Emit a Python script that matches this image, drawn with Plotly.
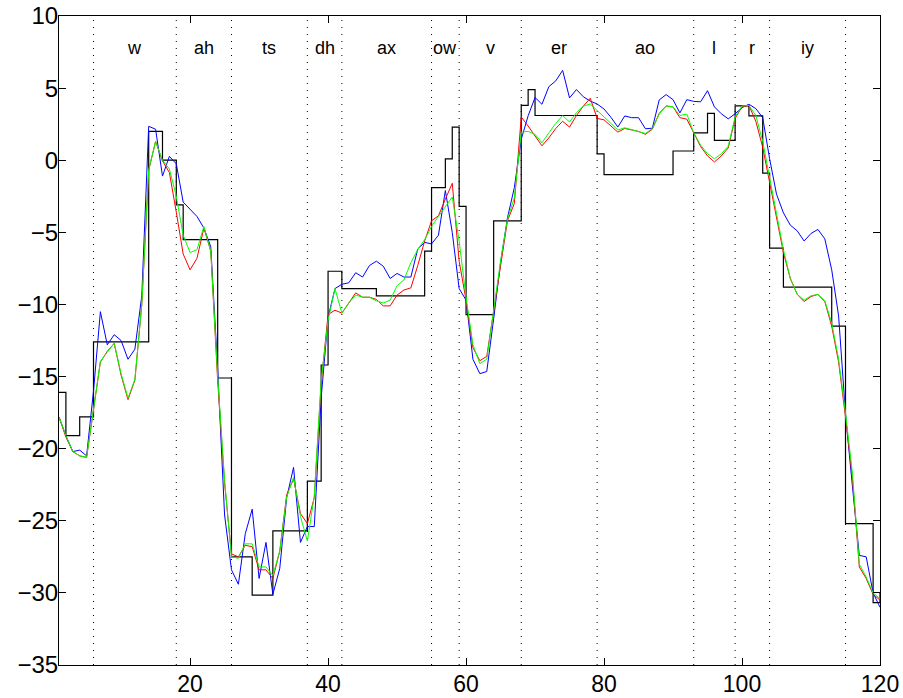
import plotly.graph_objects as go

frames = list(range(1, 121))

blue = [-17.8, -19.1, -20.2, -20.1, -20.5, -16.0, -10.5, -12.8, -12.1, -12.5,
        -13.8, -13.1, -9.4, 2.35, 2.15, -1.1, 0.27, -0.25, -2.9, -3.4,
        -3.9, -4.7, -6.0, -14.5, -24.6, -28.4, -29.4, -25.9, -24.2, -29.0,
        -26.5, -30.1, -28.3, -23.4, -21.3, -26.5, -25.4, -25.4, -16.5, -10.9,
        -8.9, -8.6, -8.5, -7.8, -8.1, -7.3, -7.0, -7.35, -8.2, -7.85,
        -8.1, -8.1, -6.15, -5.7, -5.8, -5.2, -2.1, -5.0, -8.9, -9.7,
        -13.8, -14.8, -14.65, -11.0, -7.1, -4.0, -1.9, 1.45, 3.08, 4.35,
        3.88, 5.1, 5.5, 6.23, 4.32, 4.9, 4.4, 4.1, 3.9, 3.55,
        2.98, 2.3, 3.07, 2.95, 2.95, 2.18, 2.22, 4.18, 4.55, 4.2,
        3.28, 4.2, 4.08, 4.05, 4.82, 3.7, 3.22, 2.87, 3.22, 3.65,
        3.88, 3.58, 2.95, 0.1, -2.35, -3.65, -4.5, -4.9, -5.6, -5.08,
        -4.8, -5.45, -7.6, -10.8, -17.6, -22.6, -27.4, -27.5, -30.0, -31.0]

red = [-17.8, -19.2, -20.2, -20.5, -20.6, -17.2, -14.0, -13.25, -12.7, -14.9,
       -16.6, -15.25, -10.0, -0.7, 1.3, -0.05, -0.85, -3.6, -6.5, -7.6,
       -6.8, -4.7, -6.3, -15.3, -22.4, -27.3, -27.5, -26.7, -26.8, -28.4,
       -28.4, -29.0, -27.1, -23.2, -22.1, -24.5, -25.2, -23.4, -15.5, -10.7,
       -10.4, -10.6, -9.9, -9.2, -9.5, -9.5, -9.65, -10.1, -10.1, -9.35,
       -9.0, -8.85, -7.3, -5.6, -4.2, -3.85, -2.7, -1.6, -7.0, -9.7,
       -13.0, -13.9, -13.6, -10.5, -7.1, -4.2, -3.0, 3.0, 2.37, 1.7,
       1.0, 1.55, 2.2, 2.7, 2.3, 3.1, 3.75, 4.3, 2.9, 2.8,
       2.4, 1.95, 2.2, 2.1, 2.0, 1.8, 2.15, 3.25, 3.76, 3.7,
       2.95, 2.85, 1.9, 0.95, 0.3, -0.12, 0.3, 0.85, 2.9, 3.7,
       3.8, 2.7, 0.9, -1.5, -3.95, -6.4, -8.2, -9.3, -9.8, -9.45,
       -9.3, -9.8, -11.5, -14.0, -17.8, -22.0, -28.2, -29.0, -30.1, -30.5]

green = [-17.8, -19.1, -20.2, -20.5, -20.6, -17.1, -13.95, -13.3, -12.7, -14.8,
         -16.5, -15.2, -10.0, -0.65, 1.3, 0.0, -0.6, -2.5, -5.2, -6.4,
         -6.2, -4.6, -6.3, -15.0, -22.2, -27.5, -27.6, -26.6, -26.6, -28.2,
         -28.2, -28.8, -27.1, -23.35, -22.0, -24.7, -26.4, -23.3, -15.3, -11.1,
         -8.9, -10.6, -9.9, -9.35, -9.5, -9.5, -9.75, -9.9, -9.7, -8.7,
         -8.3, -7.1, -6.2, -5.5, -4.6, -3.9, -3.2, -2.55, -5.6, -9.5,
         -12.8, -14.1, -13.8, -10.5, -7.0, -4.1, -2.6, 1.95, 2.0, 1.8,
         1.2, 1.9, 2.55, 3.1, 2.65, 3.3, 3.75, 3.9, 3.45, 2.95,
         2.55, 2.1, 2.25, 2.13, 2.0, 1.85, 2.2, 3.2, 3.76, 3.7,
         3.1, 3.2, 1.9, 1.05, 0.45, 0.1, 0.45, 0.97, 3.0, 3.76,
         3.8, 3.1, 1.3, -1.3, -3.7, -6.2, -8.2, -9.3, -9.7, -9.4,
         -9.3, -9.75, -11.3, -13.8, -17.5, -21.7, -28.0, -28.9, -30.0, -30.4]

# target staircase: start frame of each step and its level
step_x = [1, 2, 4, 6, 14, 16, 18, 19, 24, 26, 29, 32, 37, 39, 40, 42, 47, 54, 55, 57,
          58, 59, 60, 64, 68, 69, 70, 79, 80, 90, 93, 95, 96, 99, 101, 103, 104, 106,
          113, 115, 119, 120]
step_y = [-16.1, -19.1, -17.8, -12.6, 2.0, 0.0, -3.1, -5.5, -15.1, -27.5, -30.15, -25.7,
          -22.25, -14.2, -7.7, -8.9, -9.4, -6.3, -1.9, 0.1, 2.3, -3.2, -10.7, -4.2,
          3.8, 4.9, 3.1, 0.44, -1.0, 0.64, 1.9, 3.25, 1.37, 3.77, 3.07, -0.9, -6.1,
          -8.8, -11.5, -25.2, -30.67, -30.0]

phones = ["w", "ah", "ts", "dh", "ax", "ow", "v", "er", "ao", "l", "r", "iy"]
boundaries = [6, 18, 26, 37, 42, 55, 59, 68, 79, 93, 99, 104, 115]

x_ticks = [20, 40, 60, 80, 100, 120]
y_ticks = [10, 5, 0, -5, -10, -15, -20, -25, -30, -35]

FONT = "Liberation Sans, Arial, sans-serif"

fig = go.Figure()
fig.add_trace(go.Scatter(x=step_x, y=step_y, mode="lines", line=dict(color="black", width=1.2, shape="hv"),
                         hoverinfo="skip"))
fig.add_trace(go.Scatter(x=frames, y=blue, mode="lines", line=dict(color="#0000ff", width=1)))
fig.add_trace(go.Scatter(x=frames, y=red, mode="lines", line=dict(color="#ff0000", width=1)))
fig.add_trace(go.Scatter(x=frames, y=green, mode="lines", line=dict(color="#00ff00", width=1)))

for b in boundaries:
    fig.add_shape(type="line", x0=b, x1=b, y0=0, y1=1, xref="x", yref="paper",
                  line=dict(color="black", width=1, dash="1px,6px"), layer="below")

for i, p in enumerate(phones):
    fig.add_annotation(x=(boundaries[i] + boundaries[i + 1]) / 2, y=7.8, text=p, showarrow=False,
                       font=dict(family=FONT, size=18, color="black"),
                       xanchor="center", yanchor="middle")

axis_common = dict(showgrid=False, zeroline=False, showline=True, linecolor="black", linewidth=1,
                   mirror="ticks", ticks="inside", ticklen=7, tickcolor="black", tickwidth=1,
                   automargin=False)

fig.update_layout(
    width=903, height=698,
    margin=dict(l=59, r=23, t=16, b=33),
    paper_bgcolor="white", plot_bgcolor="white",
    showlegend=False,
    xaxis=dict(range=[1, 120], tickvals=x_ticks, ticklabelstandoff=-2,
               tickfont=dict(family=FONT, size=23, color="black"), **axis_common),
    yaxis=dict(range=[-35, 10], tickvals=y_ticks, ticklabelstandoff=-5,
               tickfont=dict(family=FONT, size=24, color="black"), **axis_common),
)

# remove the browser's default body margin so the 903x698 figure fills the window exactly
fig.write_html("out.html", config={"displayModeBar": False},
               post_script="document.body.style.margin='0';document.body.style.overflow='hidden';")
